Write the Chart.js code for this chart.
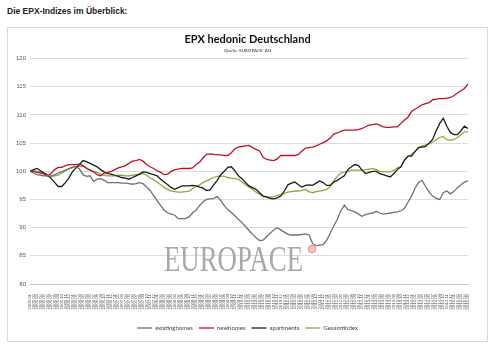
<!DOCTYPE html>
<html><head><meta charset="utf-8">
<script src="https://cdn.jsdelivr.net/npm/chart.js@4"></script>
<style>
html,body{margin:0;padding:0;background:#fff;width:500px;height:356px;overflow:hidden;}
#h{position:absolute;left:7px;top:6px;font:bold 8.5px "Liberation Sans",Arial,sans-serif;color:#222;}
#box{position:absolute;left:7px;top:27px;width:479px;height:313px;border:1px solid #d9d9d9;}
#c{display:block}
</style></head><body>
<div id="h">Die EPX-Indizes im Überblick:</div>
<div id="box"><canvas id="c" width="479" height="313"></canvas></div>
<script>
const startYear = 2005, startMonth = 1, nPoints = 125;
const labels = [];
for (let k = 0; k < nPoints; k++) {
  const m = (startMonth - 1 + k) % 12 + 1;
  const y = startYear + Math.floor((startMonth - 1 + k) / 12);
  labels.push(y + '.' + String(m).padStart(2, '0'));
}
const yTicks = [80, 85, 90, 95, 100, 105, 110, 115, 120];

const existinghomes = [100,99.7,99.4,99.3,99.2,99.2,99.2,99.4,99.7,99.9,100.2,100.5,100.7,100.9,100.4,99.4,99.1,99.2,98.2,98.6,98.7,98.4,98.0,98.0,98.0,98.0,97.9,97.9,97.8,97.7,97.8,98.0,97.8,97.2,96.6,95.7,94.8,93.9,93.1,92.6,92.4,92.2,91.6,91.6,91.6,91.9,92.6,93.1,93.9,94.6,95.0,95.1,95.2,95.5,94.8,93.9,93.2,92.7,92.1,91.5,90.9,90.2,89.5,88.8,88.2,87.7,87.8,88.4,89.0,89.6,90.0,89.6,89.2,88.8,88.7,88.7,88.7,88.8,88.9,88.7,87.2,86.8,86.9,87.0,87.8,89.0,90.3,91.5,93.0,94.0,93.2,93.0,92.8,92.4,92.0,92.3,92.5,92.6,92.9,92.6,92.4,92.5,92.6,92.7,92.8,93.0,93.4,94.5,95.6,97.0,98.0,98.4,97.3,96.3,95.6,95.2,95.0,96.2,96.5,96.0,96.4,97.1,97.6,98.1,98.3];
const newhomes = [100,100.0,99.8,99.7,99.5,99.2,99.6,100.3,100.7,100.7,101.0,101.2,101.2,101.2,101.3,101.0,100.5,100.2,99.9,99.4,99.2,99.7,99.8,100.0,100.3,100.6,100.8,101.0,101.4,101.8,101.9,102.1,101.8,101.2,100.8,100.5,100.1,99.8,99.4,99.5,100.0,100.3,100.4,100.5,100.5,100.5,100.6,101.2,101.6,102.4,103.0,103.1,103.0,102.9,102.9,102.8,102.8,103.3,104.0,104.3,104.4,104.5,104.6,104.2,103.9,103.6,102.5,102.1,102.0,101.9,102.2,102.8,102.8,102.8,102.8,102.8,103.0,103.6,104.1,104.2,104.3,104.5,104.8,105.1,105.4,105.9,106.6,106.8,107.1,107.3,107.3,107.3,107.3,107.4,107.6,107.9,108.2,108.3,108.4,108.2,107.9,107.8,107.8,107.9,107.9,108.5,109.1,109.6,110.6,111.0,111.4,111.8,112.0,112.2,112.7,112.8,112.9,112.9,113.0,113.1,113.4,113.9,114.3,114.7,115.5];
const apartments = [100,100.3,100.5,100.1,99.7,99.3,98.7,98.0,97.3,97.3,98.0,98.8,99.9,100.6,101.2,101.9,101.7,101.4,101.1,100.8,100.3,99.9,99.6,99.5,99.3,99.1,98.9,98.8,98.6,98.9,99.2,99.5,99.9,99.8,99.6,99.4,99.2,98.6,98.1,97.6,97.1,96.8,97.1,97.4,97.4,97.4,97.5,97.4,97.2,97.0,96.6,96.7,97.6,98.4,99.4,100.0,100.7,100.8,100.1,99.2,98.7,98.0,97.4,97.1,96.8,96.2,95.6,95.4,95.2,95.1,95.3,95.6,96.5,97.6,97.9,98.1,97.6,97.2,97.5,97.6,97.5,97.9,98.3,98.0,97.5,97.5,98.1,98.4,98.8,99.2,100.3,100.8,101.2,101.0,100.2,99.6,99.8,100.0,100.0,99.6,99.4,99.2,99.0,99.6,100.3,100.8,102.0,102.7,102.7,103.5,104.2,104.3,104.4,105.0,105.7,107.2,108.5,109.4,108.0,106.9,106.5,106.5,107.2,108.0,107.6];
const gesamtindex = [100,100.1,100.0,99.9,99.6,99.1,99.0,99.2,99.3,99.7,100.1,100.4,100.7,100.8,100.9,100.9,100.6,100.2,100.0,99.8,99.5,99.3,99.2,99.2,99.2,99.3,99.3,99.2,99.2,99.3,99.4,99.5,99.6,99.3,98.8,98.5,98.1,97.6,97.1,96.8,96.5,96.4,96.3,96.3,96.4,96.5,96.9,97.3,97.6,98.0,98.3,98.6,98.9,99.1,99.2,99.1,98.9,98.8,98.7,98.6,98.1,97.6,97.2,96.8,96.3,95.9,95.6,95.5,95.4,95.5,95.7,95.9,96.1,96.3,96.4,96.5,96.5,96.6,96.8,96.4,96.2,96.4,96.5,96.6,96.8,97.3,98.3,99.1,99.7,99.9,100.0,100.2,100.2,100.2,100.2,100.3,100.4,100.5,100.3,100.0,99.9,99.9,99.9,100.2,100.6,100.8,101.9,102.6,103.0,103.5,104.2,104.5,104.7,104.9,105.2,105.6,106.0,106.2,105.6,105.5,105.6,106.0,106.5,107.0,107.0];

const FONT = '"Liberation Sans", Arial, sans-serif';
const CAL = 'Lato, "Open Sans", sans-serif';

const watermark = {
  id: 'wm',
  beforeDatasetsDraw(chart) {
    const ctx = chart.ctx;
    ctx.save();
    ctx.font = '36px "Liberation Serif", "DejaVu Serif", serif';
    ctx.fillStyle = '#a8a8a8';
    const w = ctx.measureText('EUROPACE').width;
    ctx.translate(156, 243);
    ctx.scale(139 / w, 1);
    ctx.textBaseline = 'alphabetic';
    ctx.fillText('EUROPACE', 0, 0);
    ctx.restore();
    ctx.save();
    ctx.beginPath();
    ctx.arc(304, 221, 3.8, 0, Math.PI * 2);
    ctx.fillStyle = 'rgba(245,185,185,0.9)';
    ctx.fill();
    ctx.strokeStyle = '#e38a8a';
    ctx.lineWidth = 1;
    ctx.stroke();
    ctx.restore();
  }
};

const mk = (label, data, color) => ({
  label, data, borderColor: color, backgroundColor: color,
  borderWidth: 1.3, pointRadius: 0, tension: 0, fill: false, yAxisID: 'y'
});

new Chart(document.getElementById('c'), {
  type: 'line',
  data: {
    labels,
    datasets: [
      mk('existinghomes', existinghomes, '#707070'),
      mk('newhomes', newhomes, '#c0102e'),
      mk('apartments', apartments, '#1c1c1c'),
      mk('Gesamtindex', gesamtindex, '#8aab3f')
    ]
  },
  plugins: [watermark],
  options: {
    responsive: false,
    animation: false,
    layout: { padding: 0 },
    plugins: {
      title: {
        display: true, text: 'EPX hedonic Deutschland', color: '#111',
        font: { family: CAL, size: 11, weight: 'bold' },
        padding: { top: 5, bottom: 1 }
      },
      subtitle: {
        display: true, text: 'Quelle: EUROPACE  AG', color: '#333',
        font: { family: CAL, size: 4.5 },
        padding: { top: 1, bottom: 5 }
      },
      legend: {
        position: 'bottom',
        labels: {
          usePointStyle: true, pointStyle: 'line', pointStyleWidth: 15, boxHeight: 6,
          color: '#444', font: { family: CAL, size: 6 }, padding: 6
        }
      },
      tooltip: { enabled: false }
    },
    scales: {
      x: {
        grid: { display: false },
        border: { display: true, color: '#c8c8c8' },
        afterFit: s => { s.height = 35; },
        ticks: {
          autoSkip: false, maxRotation: 90, minRotation: 90,
          font: { family: FONT, size: 4.3 }, color: '#555', padding: 2
        }
      },
      y: {
        min: 80, max: 120,
        afterBuildTicks: s => { s.ticks = yTicks.map(v => ({ value: v })); },
        afterFit: s => { s.width = 22; },
        grid: { color: '#dcdcdc', drawTicks: false, lineWidth: 1 },
        border: { display: false },
        ticks: { font: { family: FONT, size: 6 }, color: '#595959', padding: 4 }
      },
      yr: {
        position: 'right', display: true, min: 80, max: 120,
        grid: { display: false }, border: { display: false },
        ticks: { display: false },
        afterFit: s => { s.width = 19; }
      }
    }
  }
});
</script>
</body></html>
